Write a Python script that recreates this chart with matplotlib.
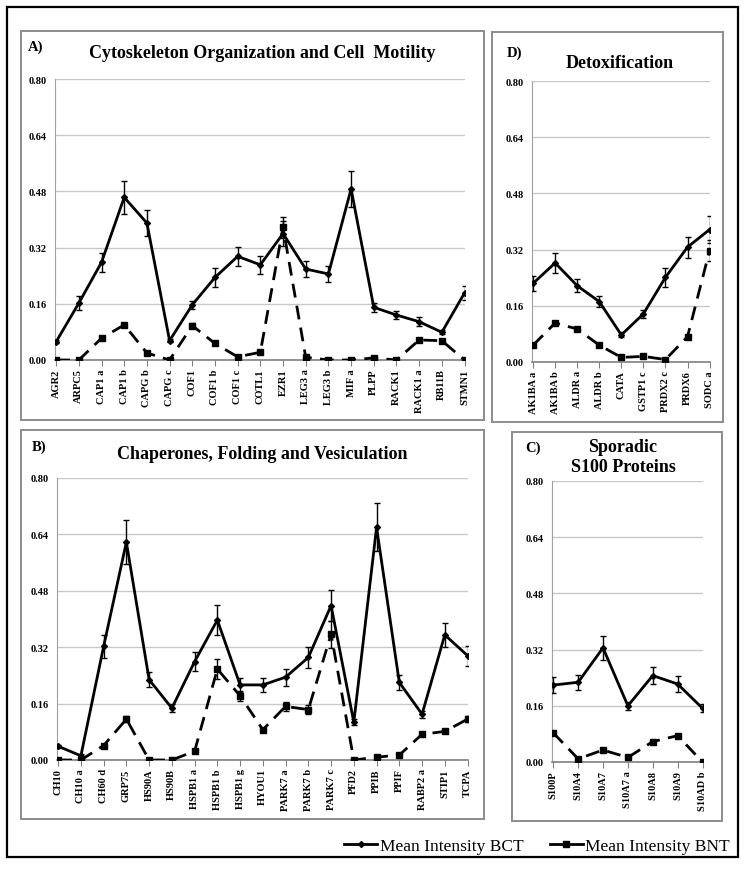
import matplotlib.pyplot as plt
from matplotlib.patches import Rectangle
from matplotlib.lines import Line2D

# data ----------------------------------------------------------------------------------------------------------
cyto_labels = ['AGR2', 'ARPC5', 'CAP1 a', 'CAP1 b', 'CAPG b', 'CAPG c', 'COF1', 'COF1 b', 'COF1 c', 'COTL1',
               'EZR1', 'LEG3 a', 'LEG3 b', 'MIF a', 'PLPP', 'RACK1', 'RACK1 a', 'RB11B', 'STMN1']
cyto_bct = [0.052, 0.162, 0.278, 0.463, 0.39, 0.055, 0.157, 0.235, 0.295, 0.271,
            0.36, 0.259, 0.245, 0.487, 0.15, 0.128, 0.109, 0.079, 0.191]
cyto_bct_err = [0.004, 0.02, 0.028, 0.046, 0.038, 0.004, 0.012, 0.026, 0.028, 0.026,
                0.035, 0.024, 0.024, 0.052, 0.012, 0.012, 0.012, 0.006, 0.019]
cyto_bnt = [0.0, 0.0, 0.062, 0.1, 0.02, 0.0, 0.098, 0.047, 0.009, 0.022,
            0.378, 0.008, 0.0, 0.0, 0.006, 0.0, 0.057, 0.055, 0.0]
cyto_bnt_err = [0, 0, 0.004, 0.006, 0.003, 0, 0.006, 0.004, 0.002, 0.003,
                0.03, 0.002, 0, 0, 0.002, 0, 0.004, 0.004, 0]

detox_labels = ['AK1BA a', 'AK1BA b', 'ALDR a', 'ALDR b', 'CATA', 'GSTP1 c', 'PRDX2 c', 'PRDX6', 'SODC a']
detox_bct = [0.224, 0.282, 0.217, 0.172, 0.077, 0.137, 0.241, 0.327, 0.377]
detox_bct_err = [0.022, 0.028, 0.019, 0.015, 0.007, 0.011, 0.027, 0.03, 0.038]
detox_bnt = [0.048, 0.111, 0.094, 0.048, 0.013, 0.016, 0.007, 0.072, 0.317]
detox_bnt_err = [0.003, 0.007, 0.005, 0.003, 0.002, 0.002, 0.002, 0.004, 0.03]

chap_labels = ['CH10', 'CH10 a', 'CH60 d', 'GRP75', 'HS90A', 'HS90B', 'HSPB1 a', 'HSPB1 b', 'HSPB1 g', 'HYOU1',
               'PARK7 a', 'PARK7 b', 'PARK7 c', 'PFD2', 'PPIB', 'PPIF', 'RABP2 a', 'STIP1', 'TCPA']
chap_bct = [0.039, 0.012, 0.322, 0.618, 0.228, 0.147, 0.279, 0.397, 0.213, 0.213,
            0.235, 0.291, 0.438, 0.107, 0.66, 0.22, 0.13, 0.355, 0.296]
chap_bct_err = [0.004, 0.004, 0.032, 0.063, 0.021, 0.012, 0.026, 0.043, 0.02, 0.02,
                0.024, 0.03, 0.045, 0.008, 0.068, 0.021, 0.01, 0.034, 0.028]
chap_bnt = [0.0, 0.0, 0.041, 0.116, 0.0, 0.0, 0.025, 0.258, 0.182, 0.086,
            0.152, 0.143, 0.357, 0.0, 0.008, 0.014, 0.073, 0.081, 0.116]
chap_bnt_err = [0, 0, 0.003, 0.008, 0, 0, 0.003, 0.028, 0.015, 0.005,
                0.012, 0.012, 0.038, 0, 0.002, 0.002, 0.004, 0.005, 0.008]

s100_labels = ['S100P', 'S10A4', 'S10A7', 'S10A7 a', 'S10A8', 'S10A9', 'S10AD b']
s100_bct = [0.219, 0.227, 0.325, 0.16, 0.246, 0.222, 0.153]
s100_bct_err = [0.022, 0.021, 0.035, 0.012, 0.024, 0.023, 0.012]
s100_bnt = [0.083, 0.009, 0.034, 0.013, 0.058, 0.075, 0.0]
s100_bnt_err = [0.003, 0.002, 0.002, 0.002, 0.003, 0.003, 0]

# figure --------------------------------------------------------------------------------------------------------
W, H = 746, 870
fig = plt.figure(figsize=(W / 100, H / 100), dpi=100)
plt.rcParams['font.family'] = ['Liberation Serif', 'DejaVu Serif']


def fig_rect(x0, y0, x1, y1, color, lw):
    # pixel box -> figure fraction rectangle
    fig.patches.append(Rectangle((x0 / W, 1 - y1 / H), (x1 - x0) / W, (y1 - y0) / H,
                                 transform=fig.transFigure, fill=False, edgecolor=color, linewidth=lw))


def panel(box, labels, bct, bct_err, bnt, bnt_err):
    x0, y0, x1, y1 = box
    ax = fig.add_axes([x0 / W, 1 - y1 / H, (x1 - x0) / W, (y1 - y0) / H])
    x = list(range(len(labels)))
    ax.errorbar(x, bnt, yerr=bnt_err, color='black', lw=2, ls=(0, (5, 3)), marker='s', ms=4.5,
                ecolor='black', elinewidth=1, capsize=2.5, zorder=3)
    ax.errorbar(x, bct, yerr=bct_err, color='black', lw=2, marker='D', ms=3,
                ecolor='black', elinewidth=1, capsize=2.5, zorder=4)
    ax.set_xlim(-0.05, len(labels) - 1 + 0.02)
    ax.set_ylim(0, 0.8)
    ax.set_yticks([0, 0.16, 0.32, 0.48, 0.64, 0.80])
    ax.set_yticklabels(['0.00', '0.16', '0.32', '0.48', '0.64', '0.80'], fontsize=7.5, fontweight='bold')
    ax.set_xticks(x)
    ax.set_xticklabels(labels, rotation=90, fontsize=7.5, fontweight='bold')
    ax.grid(axis='y', color='#c8c8c8', lw=1)
    ax.set_axisbelow(True)
    for s in ['top', 'right']:
        ax.spines[s].set_visible(False)
    ax.spines['left'].set_color('#a0a0a0')
    ax.spines['bottom'].set_color('#808080')
    ax.spines['bottom'].set_linewidth(1.2)
    ax.tick_params(axis='y', length=0, pad=6)
    ax.tick_params(axis='x', length=4, color='#808080', pad=2)
    ax.set_facecolor('none')
    return ax


# outer frame and panel boxes
fig_rect(7, 8, 738, 858, 'black', 1.6)
fig_rect(21, 32, 484, 421, '#8c8c8c', 1.4)
fig_rect(492, 33, 723, 423, '#8c8c8c', 1.4)
fig_rect(21, 431, 484, 820, '#8c8c8c', 1.4)
fig_rect(512, 433, 722, 822, '#8c8c8c', 1.4)

panel((55, 80, 465, 361), cyto_labels, cyto_bct, cyto_bct_err, cyto_bnt, cyto_bnt_err)
panel((532, 82, 710, 363), detox_labels, detox_bct, detox_bct_err, detox_bnt, detox_bnt_err)
panel((57, 479, 468, 761), chap_labels, chap_bct, chap_bct_err, chap_bnt, chap_bnt_err)
panel((552, 482, 703, 763), s100_labels, s100_bct, s100_bct_err, s100_bnt, s100_bnt_err)

# titles
def ftext(x, y, s, size, ha='center'):
    fig.text(x / W, 1 - y / H, s, fontsize=size, fontweight='bold', ha=ha, va='center')


ftext(262, 53, 'Cytoskeleton Organization and Cell  Motility', 13)
ftext(28, 47, 'A)', 10.5, ha='left')
ftext(620, 63, 'Detoxification', 13)
ftext(507, 53, 'D)', 10.5, ha='left')
ftext(262, 455, 'Chaperones, Folding and Vesiculation', 13)
ftext(32, 447, 'B)', 10.5, ha='left')
ftext(623, 448, 'Sporadic', 13)
ftext(623, 468, 'S100 Proteins', 13)
ftext(525, 448, 'C)', 10.5, ha='left')

# legend
handles = [Line2D([], [], color='black', lw=2, marker='D', ms=3),
           Line2D([], [], color='black', lw=2, marker='s', ms=4.5)]
fig.legend(handles, ['Mean Intensity BCT', 'Mean Intensity BNT'], loc='center',
           bbox_to_anchor=(537 / W, 1 - 847 / H), ncol=2, frameon=False, fontsize=12.5,
           handlelength=1.9, handletextpad=0.15, columnspacing=1.5)

fig.savefig('out.png', dpi=100)
